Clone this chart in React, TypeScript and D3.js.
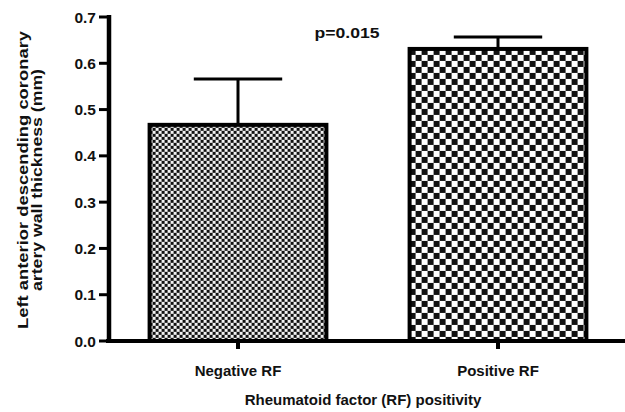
import React from "react";
import * as d3 from "d3";

const categories = ["Negative RF", "Positive RF"];
const means = [0.467, 0.631];
const errors = [0.099, 0.026];
const yTicks = [0, 0.1, 0.2, 0.3, 0.4, 0.5, 0.6, 0.7];
const pLabel = "p=0.015";
const xTitle = "Rheumatoid factor (RF) positivity";
const yTitleLines = ["Left anterior descending coronary", "artery wall thickness (mm)"];
const yTitleLengths = [298, 222];
const patternSizes = [3, 6];

const W = 625;
const H = 412;
const FONT = "'Liberation Sans', Arial, sans-serif";

export default function App() {
  const x = d3
    .scaleBand<string>()
    .domain(categories)
    .range([108, 628])
    .paddingInner(0.32)
    .paddingOuter(0.16);
  const y = d3.scaleLinear().domain([0, 0.7]).range([341, 17]);
  const fmt = d3.format(".1f");
  const bw = x.bandwidth();

  return (
    <svg
      width={W}
      height={H}
      style={{ position: "absolute", left: 0, top: 0, background: "#fff" }}
      fontFamily={FONT}
    >
      <defs>
        {patternSizes.map((s, i) => (
          <pattern
            key={i}
            id={`chk${i}`}
            patternUnits="userSpaceOnUse"
            width={s * 2}
            height={s * 2}
            x={x(categories[i])}
            y={y(means[i])}
          >
            <rect width={s * 2} height={s * 2} fill={i === 0 ? "#f2f2f2" : "#fff"} />
            <rect width={s} height={s} fill="#111" />
            <rect x={s} y={s} width={s} height={s} fill="#111" />
          </pattern>
        ))}
      </defs>

      {categories.map((c, i) => {
        const x0 = x(c)!;
        const cx = x0 + bw / 2;
        const top = y(means[i]);
        const eTop = y(means[i] + errors[i]);
        return (
          <g key={c}>
            <line x1={cx} x2={cx} y1={top} y2={eTop} stroke="#000" strokeWidth={3} />
            <line x1={cx - bw / 4} x2={cx + bw / 4} y1={eTop} y2={eTop} stroke="#000" strokeWidth={3} />
            <rect
              x={x0}
              y={top}
              width={bw}
              height={y(0) - top}
              fill={`url(#chk${i})`}
              stroke="#000"
              strokeWidth={4}
            />
            <line x1={cx} x2={cx} y1={y(0)} y2={y(0) + 8} stroke="#000" strokeWidth={4} />
            <text x={cx} y={376} textAnchor="middle" fontSize={15} fontWeight="bold" fill="#111">
              {c}
            </text>
          </g>
        );
      })}

      <line x1={109} x2={109} y1={y(0.7) - 2} y2={y(0) + 2} stroke="#000" strokeWidth={4.5} />
      <line x1={106} x2={625} y1={y(0)} y2={y(0)} stroke="#000" strokeWidth={4} />
      {yTicks.map((t) => (
        <g key={t}>
          <line x1={99} x2={109} y1={y(t)} y2={y(t)} stroke="#000" strokeWidth={3} />
          <text
            x={96}
            y={y(t)}
            dy="0.36em"
            textAnchor="end"
            fontSize={15.5}
            fontWeight="bold"
            fill="#111"
          >
            {fmt(t)}
          </text>
        </g>
      ))}

      <text x={363} y={405} textAnchor="middle" fontSize={15} fontWeight="bold" fill="#111">
        {xTitle}
      </text>
      {yTitleLines.map((l, i) => (
        <text
          key={i}
          transform={`translate(${27.5 + i * 14.5},180) rotate(-90)`}
          textAnchor="middle"
          fontSize={15}
          fontWeight="bold"
          fill="#111"
          textLength={yTitleLengths[i]}
          lengthAdjust="spacingAndGlyphs"
        >
          {l}
        </text>
      ))}
      <text
        x={347}
        y={38}
        textAnchor="middle"
        fontSize={15.5}
        fontWeight="bold"
        fill="#111"
        textLength={65}
        lengthAdjust="spacingAndGlyphs"
      >
        {pLabel}
      </text>
    </svg>
  );
}
